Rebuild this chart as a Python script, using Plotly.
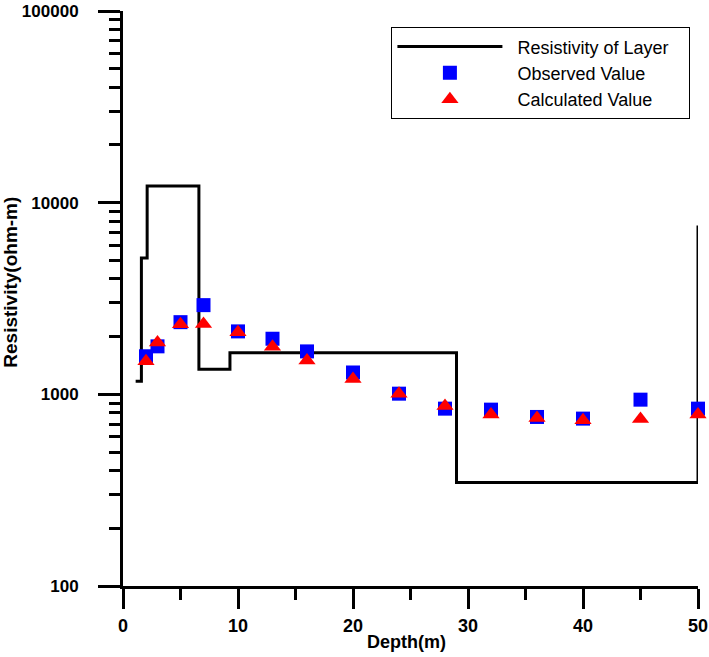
import plotly.graph_objects as go

# ---- data ----
# layer model (step line): depth breakpoints and resistivity values
layer_depth = [1.1, 1.6, 2.1, 6.6, 9.3, 29.0, 50.0, 50.0]
layer_res = [1170, 5150, 12200, 1350, 1650, 347, 347, 7600]

depth = [2, 3, 5, 7, 10, 13, 16, 20, 24, 28, 32, 36, 40, 45, 50]
observed = [1580, 1780, 2380, 2920, 2130, 1950, 1675, 1300, 1008, 842, 832, 762, 747, 938, 842]
calculated = [1490, 1866, 2323, 2330, 2110, 1771, 1503, 1202, 1008, 869, 784, 753, 732, 744, 784]

y_tickvals = [100, 1000, 10000, 100000]
y_ticktext = ["100", "1000", "10000", "100000"]
x_tickvals = [0, 10, 20, 30, 40, 50]
x_ticktext = ["0", "10", "20", "30", "40", "50"]

series_names = ["Resistivity of Layer", "Observed Value", "Calculated Value"]

FONT = "Liberation Sans, Arial, sans-serif"
PAD = "\u00a0\u00a0"
TAIL = "\u00a0\u00a0\u00a0"

fig = go.Figure()
fig.add_trace(go.Scatter(
    x=layer_depth, y=layer_res, mode="lines", line_shape="hv",
    line=dict(color="black", width=3), name=PAD + series_names[0] + TAIL,
    cliponaxis=False,
))
fig.add_trace(go.Scatter(
    x=depth, y=observed, mode="markers", name=PAD + series_names[1],
    marker=dict(symbol="square", size=14, color="#0000FF", line=dict(width=0)),
    cliponaxis=False,
))
fig.add_trace(go.Scatter(
    x=depth, y=calculated, mode="markers", name=PAD + series_names[2],
    marker=dict(symbol="triangle-up", size=15, color="#FF0000", line=dict(width=0)),
    cliponaxis=False,
))

fig.update_layout(
    width=709, height=657,
    margin=dict(l=123, r=11, t=11, b=71),
    paper_bgcolor="white", plot_bgcolor="white",
    font=dict(family=FONT, color="black"),
    showlegend=True,
    legend=dict(
        x=0.4668, y=0.9717, xanchor="left", yanchor="top",
        bordercolor="black", borderwidth=1, bgcolor="white",
        font=dict(family=FONT, size=18, color="black"),
        itemwidth=105, tracegroupgap=0,
    ),
    xaxis=dict(
        range=[0, 50], tickvals=x_tickvals, ticktext=x_ticktext,
        showgrid=False, zeroline=False, automargin=False,
        showline=True, linecolor="black", linewidth=3,
        ticks="outside", ticklen=20, tickwidth=3, tickcolor="black",
        tickfont=dict(family=FONT, size=18, color="black", weight="bold"),
        ticklabelstandoff=1,
        minor=dict(ticks="outside", ticklen=11, tickwidth=3, tickcolor="black", dtick=5, showgrid=False),
    ),
    yaxis=dict(
        type="log", range=[2, 5], tickvals=y_tickvals, ticktext=y_ticktext,
        showgrid=False, zeroline=False, automargin=False,
        showline=True, linecolor="black", linewidth=3,
        ticks="outside", ticklen=22, tickwidth=3, tickcolor="black",
        tickfont=dict(family=FONT, size=17, color="black", weight="bold"),
        ticklabelstandoff=16,
        minor=dict(ticks="outside", ticklen=11, tickwidth=3, tickcolor="black", dtick="D1", showgrid=False),
    ),
    annotations=[
        dict(text="Depth(m)", xref="paper", yref="paper", x=0.4935, y=-0.0975,
             xanchor="center", yanchor="middle", showarrow=False,
             font=dict(family=FONT, size=18, color="black", weight="bold")),
        dict(text="Resistivity(ohm-m)", xref="paper", yref="paper", x=-0.1953, y=0.5287,
             xanchor="center", yanchor="middle", textangle=-90, showarrow=False,
             font=dict(family=FONT, size=19, color="black", weight="bold")),
    ],
)

fig.write_html("out.html", config={"displayModeBar": False},
               post_script="document.body.style.margin='0px';")
